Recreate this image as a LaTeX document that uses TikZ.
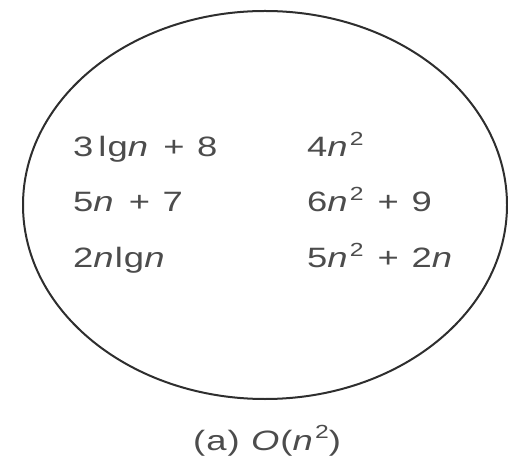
\documentclass[tikz,border=0pt]{standalone}
\usepackage{fontspec}
\setmainfont{Liberation Sans}
\newfontfamily\widefont[FakeStretch=1.3,LetterSpace=4]{Liberation Sans}
\definecolor{ink}{HTML}{4C4C4C}
\definecolor{edge}{HTML}{2E2E2E}
\newcommand{\nn}{\textit{n}}
\newcommand{\sq}{\hspace{0.04em}\raisebox{0.42em}{\fontsize{19}{19}\selectfont 2}}
\newcommand{\pl}{\hspace{0.5em}+\hspace{0.45em}}
\tikzset{
  expr/.style={anchor=base west, inner sep=0pt, text=ink, font=\widefont\fontsize{28}{32}\selectfont},
  captext/.style={anchor=base, inner sep=0pt, text=ink, font=\widefont\fontsize{28}{32}\selectfont},
  setline/.style={draw=edge, line width=2pt}
}
\begin{document}
\begin{tikzpicture}[x=1pt,y=1pt]
\useasboundingbox (0,0) rectangle (508,458);
\draw[setline] (265,253) ellipse [x radius=242, y radius=194];
\node[expr] (a1) at (73,301) {3\hspace{0.18em}lg\nn\pl 8};
\node[expr] (a2) at (73,246) {5\nn\pl 7};
\node[expr] (a3) at (73,190) {2\nn lg\nn};
\node[expr] (b1) at (307,301) {4\nn\sq};
\node[expr] (b2) at (307,246) {6\nn\sq\pl 9};
\node[expr] (b3) at (307,190) {5\nn\sq\pl 2\nn};
\node[captext] (c) at (267,8) {(a) \textit{O}(\nn\sq)};
\end{tikzpicture}
\end{document}
